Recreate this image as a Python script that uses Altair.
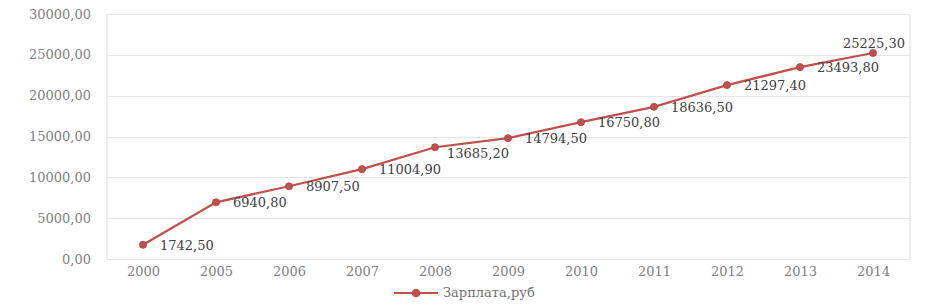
import altair as alt
import pandas as pd

years = ["2000", "2005", "2006", "2007", "2008", "2009", "2010", "2011", "2012", "2013", "2014"]
salary = [1742.50, 6940.80, 8907.50, 11004.90, 13685.20, 14794.50, 16750.80, 18636.50, 21297.40, 23493.80, 25225.30]
series_name = "Зарплата,руб"
y_ticks = [0, 5000, 10000, 15000, 20000, 25000, 30000]

df = pd.DataFrame({"year": years, "value": salary, "series": [series_name] * len(years)})

RED = "#C0504D"
FONT = "DejaVu Serif"
LAB = "replace(format(datum.value, '.2f'), '.', ',')"

x = alt.X("year:O", scale=alt.Scale(type="point", padding=0.5),
          axis=alt.Axis(title=None, labelAngle=0, ticks=False, domain=False, grid=False,
                        labelPadding=6, labelFont=FONT, labelFontSize=13, labelColor="#7f7f7f"))
y = alt.Y("value:Q", scale=alt.Scale(domain=[0, 30000], nice=False),
          axis=alt.Axis(title=None, values=y_ticks, ticks=False, domain=False,
                        gridColor="#e6e6e6", gridWidth=1, labelPadding=16,
                        labelFont=FONT, labelFontSize=13, labelColor="#7f7f7f",
                        labelExpr=LAB))

base = alt.Chart(df).encode(x=x, y=y)

legend_path = "M-1,0L1,0M-0.15,0A0.15,0.15,0,1,0,0.15,0A0.15,0.15,0,1,0,-0.15,0Z"

line = base.mark_line(strokeWidth=2.25).encode(
    color=alt.Color("series:N", scale=alt.Scale(range=[RED]),
                    legend=alt.Legend(title=None, orient="none", legendX=286.5, legendY=256,
                                      padding=0, symbolType=legend_path, symbolSize=1936,
                                      symbolStrokeWidth=2, symbolFillColor=RED,
                                      symbolStrokeColor=RED, symbolOffset=0, labelOffset=4,
                                      labelFont=FONT, labelFontSize=13, labelColor="#6f6f6f"))
)
points = base.mark_circle(size=50, opacity=1, color=RED, stroke="#a84442", strokeWidth=0.8)

labels_right = base.transform_filter(
    (alt.datum.year != "2014") & (alt.datum.year != "2008")
).transform_calculate(lab=LAB).mark_text(
    align="left", baseline="middle", dx=17, dy=1, font=FONT, fontSize=13, color="#404040"
).encode(text="lab:N")

labels_low = base.transform_filter(alt.datum.year == "2008").transform_calculate(
    lab=LAB
).mark_text(align="left", baseline="middle", dx=12, dy=7, font=FONT, fontSize=13,
            color="#404040").encode(text="lab:N")

labels_top = base.transform_filter(alt.datum.year == "2014").transform_calculate(
    lab=LAB
).mark_text(align="center", baseline="middle", dx=1, dy=-9, font=FONT, fontSize=13,
            color="#404040").encode(text="lab:N")

chart = alt.layer(line, points, labels_right, labels_low, labels_top).properties(
    width=803, height=245,
    autosize=alt.AutoSizeParams(type="none"),
    padding={"left": 98.5, "top": 6, "right": 16.5, "bottom": 41},
).configure_view(stroke=None).configure(background="white")

chart.save("out.html", embed_options={"renderer": "svg", "actions": False})
